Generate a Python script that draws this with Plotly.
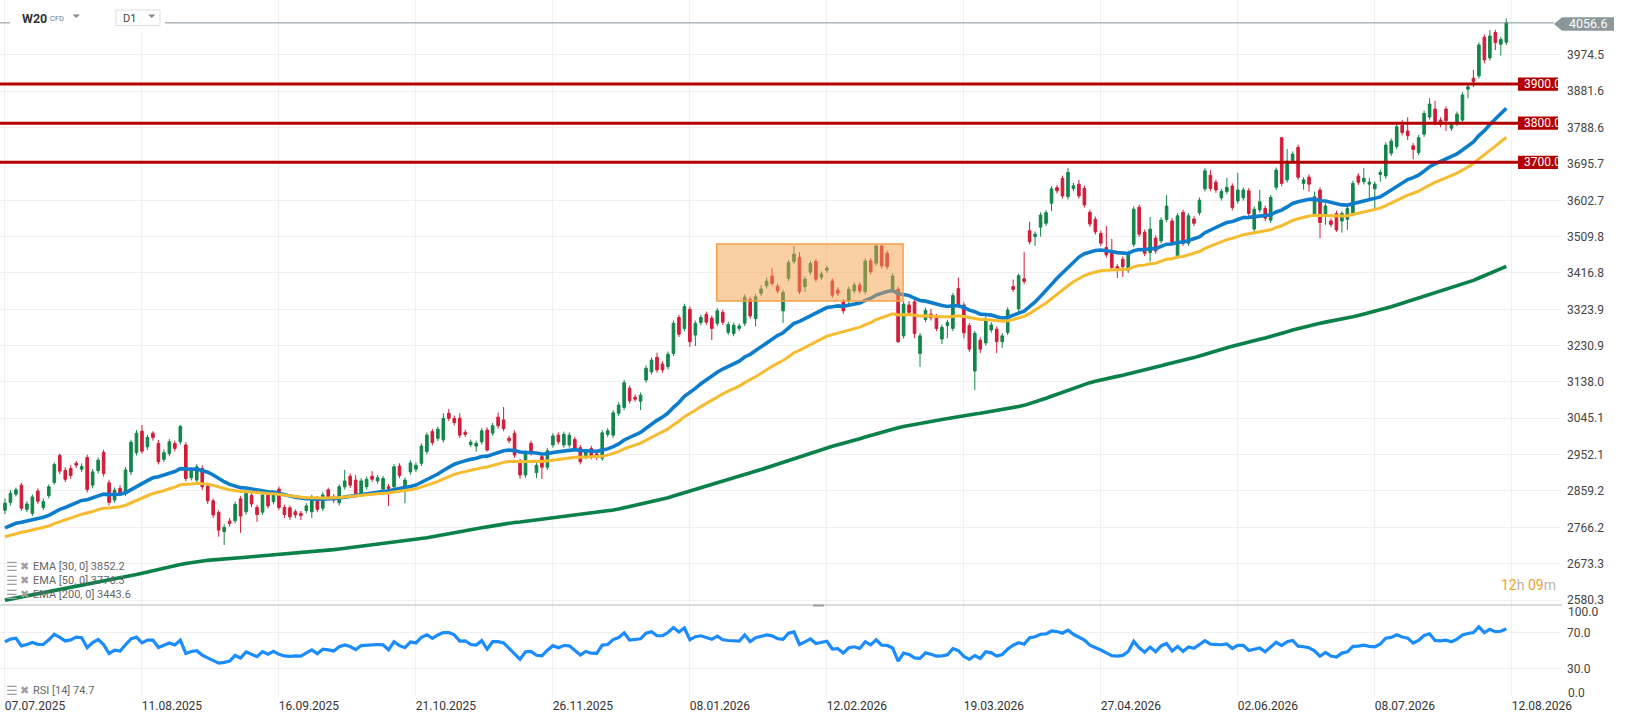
import plotly.graph_objects as go

# W20 CFD, D1 - candles (275 sessions)
date_ticks = ["07.07.2025", "11.08.2025", "16.09.2025", "21.10.2025", "26.11.2025", "08.01.2026",
              "12.02.2026", "19.03.2026", "27.04.2026", "02.06.2026", "08.07.2026", "12.08.2026"]
tick_step = 25

opens = [
    2810, 2830, 2851, 2874, 2812, 2802, 2859, 2817, 2847, 2881,
    2950, 2912, 2917, 2930, 2915, 2945, 2874, 2911, 2958, 2880,
    2836, 2866, 2853, 2908, 2957, 3012, 2972, 3007, 2981, 2940,
    2955, 2981, 2985, 2977, 2893, 2887, 2917, 2872, 2834, 2804,
    2755, 2782, 2783, 2839, 2806, 2848, 2817, 2805, 2849, 2832,
    2864, 2817, 2816, 2806, 2802, 2809, 2806, 2839, 2815, 2862,
    2844, 2829, 2870, 2897, 2887, 2853, 2870, 2897, 2885, 2864,
    2870, 2870, 2923, 2870, 2908, 2915, 2930, 2960, 3011, 2994,
    2990, 3058, 3045, 3045, 3009, 2978, 2974, 2985, 3015, 3007,
    3048, 3041, 2994, 3007, 2934, 2900, 2981, 2906, 2947, 2920,
    2977, 3002, 2977, 2977, 2991, 2970, 2947, 2968, 2954, 2943,
    3004, 3002, 3058, 3073, 3122, 3099, 3089, 3143, 3164, 3201,
    3184, 3177, 3211, 3303, 3275, 3324, 3258, 3290, 3311, 3301,
    3288, 3316, 3265, 3262, 3275, 3288, 3349, 3300, 3365, 3384,
    3409, 3383, 3320, 3403, 3446, 3457, 3382, 3419, 3446, 3406,
    3424, 3396, 3373, 3343, 3345, 3371, 3386, 3369, 3448, 3442,
    3486, 3467, 3373, 3375, 3256, 3335, 3343, 3211, 3298, 3312,
    3305, 3248, 3282, 3275, 3377, 3335, 3282, 3166, 3245, 3238,
    3271, 3273, 3241, 3265, 3382, 3325, 3402, 3525, 3510, 3534,
    3544, 3595, 3635, 3659, 3612, 3633, 3644, 3633, 3572, 3554,
    3518, 3482, 3469, 3433, 3452, 3424, 3490, 3585, 3521, 3469,
    3506, 3499, 3554, 3550, 3461, 3572, 3493, 3555, 3571, 3632,
    3667, 3649, 3609, 3625, 3639, 3601, 3609, 3627, 3529, 3578,
    3582, 3552, 3636, 3763, 3655, 3704, 3738, 3646, 3662, 3567,
    3629, 3567, 3550, 3569, 3550, 3554, 3569, 3665, 3650, 3644,
    3632, 3669, 3665, 3723, 3740, 3795, 3780, 3742, 3725, 3772,
    3816, 3836, 3808, 3836, 3787, 3800, 3808, 3887, 3915, 3921,
    4020, 3967, 4032, 4002, 4007,
]
highs = [
    2840, 2862, 2868, 2880, 2833, 2850, 2866, 2840, 2876, 2932,
    2955, 2920, 2925, 2936, 2930, 2952, 2915, 2945, 2965, 2888,
    2868, 2874, 2920, 2990, 3015, 3028, 3003, 3012, 2990, 2965,
    2992, 2988, 3028, 2984, 2920, 2928, 2925, 2880, 2840, 2810,
    2774, 2790, 2832, 2846, 2862, 2855, 2824, 2856, 2856, 2856,
    2870, 2824, 2822, 2812, 2808, 2828, 2850, 2846, 2856, 2868,
    2851, 2876, 2913, 2904, 2900, 2892, 2896, 2910, 2900, 2898,
    2877, 2928, 2930, 2894, 2938, 2932, 2981, 3009, 3018, 3024,
    3058, 3069, 3052, 3058, 3016, 2991, 2988, 3020, 3022, 3033,
    3060, 3074, 3001, 3014, 2941, 2962, 2988, 2932, 2954, 2969,
    3007, 3009, 3011, 3009, 2998, 2977, 2967, 2975, 2961, 3015,
    3020, 3066, 3086, 3143, 3129, 3106, 3111, 3180, 3201, 3213,
    3191, 3216, 3295, 3310, 3338, 3331, 3295, 3310, 3318, 3308,
    3327, 3323, 3292, 3290, 3288, 3362, 3356, 3363, 3386, 3405,
    3430, 3390, 3374, 3450, 3486, 3470, 3408, 3448, 3453, 3421,
    3436, 3403, 3380, 3350, 3382, 3393, 3393, 3454, 3455, 3489,
    3488, 3474, 3416, 3382, 3344, 3345, 3350, 3263, 3328, 3325,
    3312, 3285, 3297, 3366, 3405, 3342, 3289, 3269, 3252, 3306,
    3291, 3280, 3263, 3329, 3400, 3415, 3471, 3548, 3523, 3572,
    3578, 3639, 3642, 3666, 3685, 3647, 3655, 3640, 3579, 3561,
    3525, 3537, 3504, 3440, 3459, 3474, 3587, 3592, 3528, 3560,
    3513, 3559, 3616, 3557, 3570, 3579, 3570, 3562, 3610, 3685,
    3680, 3656, 3632, 3660, 3646, 3673, 3636, 3634, 3587, 3629,
    3589, 3617, 3687, 3765, 3734, 3728, 3745, 3662, 3669, 3625,
    3636, 3595, 3557, 3576, 3576, 3589, 3653, 3672, 3685, 3660,
    3651, 3681, 3751, 3761, 3798, 3808, 3815, 3749, 3770, 3832,
    3864, 3857, 3815, 3843, 3802, 3830, 3879, 3900, 3936, 4007,
    4027, 4038, 4039, 4021, 4068,
]
lows = [
    2800, 2822, 2845, 2808, 2805, 2795, 2826, 2810, 2840, 2875,
    2902, 2882, 2890, 2918, 2908, 2855, 2866, 2904, 2896, 2822,
    2829, 2846, 2846, 2900, 2950, 2955, 2964, 2988, 2927, 2933,
    2948, 2960, 2978, 2884, 2886, 2880, 2862, 2826, 2790, 2742,
    2721, 2768, 2776, 2752, 2798, 2818, 2780, 2798, 2814, 2825,
    2810, 2790, 2785, 2790, 2785, 2802, 2790, 2805, 2808, 2837,
    2829, 2822, 2863, 2867, 2846, 2846, 2863, 2882, 2878, 2857,
    2821, 2863, 2892, 2828, 2901, 2908, 2923, 2953, 2976, 2987,
    2983, 3038, 3027, 2995, 2997, 2971, 2960, 2978, 2960, 3000,
    3019, 3012, 2981, 2944, 2890, 2893, 2950, 2892, 2890, 2913,
    2970, 2978, 2970, 2970, 2961, 2927, 2940, 2940, 2938, 2936,
    2997, 2995, 3051, 3066, 3083, 3087, 3066, 3136, 3157, 3162,
    3162, 3170, 3204, 3253, 3268, 3228, 3230, 3283, 3284, 3245,
    3281, 3284, 3258, 3255, 3268, 3281, 3300, 3280, 3358, 3377,
    3383, 3364, 3289, 3396, 3439, 3362, 3368, 3412, 3394, 3399,
    3417, 3353, 3358, 3313, 3333, 3364, 3364, 3362, 3413, 3435,
    3428, 3426, 3366, 3238, 3249, 3309, 3250, 3177, 3291, 3295,
    3268, 3235, 3250, 3268, 3328, 3250, 3215, 3117, 3212, 3231,
    3264, 3212, 3225, 3258, 3368, 3318, 3388, 3490, 3486, 3510,
    3537, 3575, 3620, 3607, 3605, 3626, 3607, 3584, 3535, 3515,
    3486, 3456, 3424, 3404, 3407, 3417, 3483, 3509, 3460, 3446,
    3466, 3492, 3547, 3488, 3454, 3486, 3486, 3537, 3564, 3625,
    3626, 3622, 3602, 3618, 3577, 3594, 3602, 3562, 3516, 3571,
    3550, 3545, 3629, 3639, 3648, 3697, 3655, 3630, 3625, 3560,
    3506, 3540, 3534, 3522, 3520, 3527, 3562, 3642, 3643, 3608,
    3582, 3650, 3658, 3716, 3733, 3769, 3757, 3708, 3718, 3765,
    3809, 3794, 3790, 3780, 3780, 3793, 3801, 3864, 3892, 3914,
    3953, 3960, 3987, 3973, 4000,
]
closes = [
    2828, 2853, 2862, 2815, 2826, 2844, 2833, 2832, 2870, 2927,
    2910, 2889, 2899, 2925, 2922, 2863, 2908, 2938, 2904, 2830,
    2861, 2853, 2913, 2984, 3007, 2961, 2996, 2996, 2934, 2957,
    2985, 2968, 3024, 2891, 2913, 2921, 2870, 2834, 2798, 2759,
    2766, 2776, 2825, 2795, 2855, 2826, 2799, 2849, 2821, 2849,
    2817, 2799, 2793, 2798, 2796, 2821, 2844, 2812, 2849, 2844,
    2836, 2870, 2885, 2874, 2853, 2885, 2889, 2889, 2893, 2891,
    2865, 2921, 2899, 2887, 2931, 2925, 2974, 3002, 2983, 3017,
    3045, 3045, 3034, 3002, 3004, 2984, 2981, 3013, 2964, 3026,
    3026, 3019, 2988, 2951, 2900, 2955, 2957, 2925, 2920, 2962,
    3000, 2985, 3004, 3002, 2968, 2934, 2960, 2947, 2945, 3008,
    3013, 3059, 3079, 3136, 3090, 3094, 3104, 3173, 3194, 3169,
    3169, 3209, 3288, 3260, 3331, 3241, 3288, 3303, 3291, 3275,
    3320, 3291, 3285, 3283, 3281, 3355, 3307, 3356, 3376, 3396,
    3390, 3371, 3367, 3443, 3465, 3369, 3401, 3441, 3401, 3414,
    3429, 3360, 3365, 3320, 3375, 3386, 3371, 3447, 3420, 3486,
    3435, 3433, 3409, 3241, 3337, 3316, 3262, 3256, 3321, 3302,
    3275, 3278, 3290, 3359, 3335, 3264, 3222, 3262, 3222, 3299,
    3284, 3241, 3256, 3322, 3375, 3410, 3395, 3497, 3516, 3565,
    3571, 3632, 3627, 3614, 3674, 3640, 3614, 3591, 3542, 3522,
    3493, 3463, 3431, 3427, 3433, 3467, 3580, 3516, 3467, 3529,
    3473, 3552, 3588, 3495, 3563, 3493, 3563, 3544, 3603, 3678,
    3633, 3629, 3625, 3636, 3584, 3629, 3629, 3569, 3580, 3599,
    3557, 3610, 3680, 3646, 3703, 3721, 3662, 3655, 3644, 3612,
    3546, 3588, 3541, 3527, 3569, 3582, 3646, 3649, 3659, 3649,
    3644, 3674, 3744, 3754, 3791, 3776, 3768, 3733, 3763, 3825,
    3849, 3801, 3797, 3806, 3795, 3823, 3872, 3893, 3906, 4000,
    3962, 4023, 4006, 4014, 4057,
]

price_ticks = [2580.3, 2673.3, 2766.2, 2859.2, 2952.1, 3045.1, 3138.0, 3230.9,
               3323.9, 3416.8, 3509.8, 3602.7, 3695.7, 3788.6, 3881.6, 3974.5]
last_price = 4056.6
levels = [3900.0, 3800.0, 3700.0]

# EMA periods, their values carried in from before the visible window, legend texts
ema_periods = [30, 50, 200]
ema_start = [2765, 2742, 2580]
ema_labels = ["EMA [30, 0] 3852.2", "EMA [50, 0] 3776.3", "EMA [200, 0] 3443.6"]
ema_colors = ["#0b7dcc", "#f7bb2f", "#0a8148"]
rsi_period = 14
rsi_seed = (15.0, 10.0)  # avg gain / avg loss before the window
rsi_label = "RSI [14] 74.7"

# consolidation box drawn on the chart (session index / price)
box_x = [129.9, 163.9]
box_y = [3345, 3491]


def ema(values, n, seed):
    k = 2.0 / (n + 1)
    out = [seed]
    for v in values[1:]:
        out.append(out[-1] + k * (v - out[-1]))
    return out


def rsi(values, n, seed):
    g, l = seed
    out = [100 - 100 / (1 + g / l)]
    for prev, cur in zip(values[:-1], values[1:]):
        ch = cur - prev
        g = (g * (n - 1) + max(ch, 0)) / n
        l = (l * (n - 1) + max(-ch, 0)) / n
        out.append(100 - 100 / (1 + g / l))
    return out


idx = list(range(len(closes)))

# page geometry (pixels)
W, H = 1626, 723
PW, PH = 1560, 697
SPLIT = 605
Y_RANGE = [2567.5, 4115.1]
RSI_RANGE = [-0.9, 100.5]
FONT = "Roboto"


def px(x):
    return x / PW


def py(y):
    return (PH - y) / PH


def label(x, y, text, size, color="#666666", anchor="left", family=FONT):
    return dict(xref="paper", yref="paper", x=px(x), y=py(y), xanchor=anchor, yanchor="middle",
                text=text, showarrow=False, font=dict(family=family, size=size, color=color))


split_paper = py(SPLIT)

fig = go.Figure()

fig.add_trace(go.Candlestick(
    x=idx, open=opens, high=highs, low=lows, close=closes,
    increasing=dict(line=dict(color="#12864a", width=1), fillcolor="#12864a"),
    decreasing=dict(line=dict(color="#d21c38", width=1), fillcolor="#d21c38"),
    whiskerwidth=0, showlegend=False, xaxis="x", yaxis="y",
))

for n, s0, col, w in zip(ema_periods, ema_start, ema_colors, [3.6, 3.0, 3.6]):
    fig.add_trace(go.Scatter(
        x=idx, y=ema(closes, n, s0), mode="lines",
        line=dict(color=col, width=w), showlegend=False, hoverinfo="skip",
        xaxis="x", yaxis="y",
    ))

fig.add_trace(go.Scatter(
    x=idx, y=rsi(closes, rsi_period, rsi_seed), mode="lines",
    line=dict(color="#1a8cff", width=3.2), showlegend=False,
    xaxis="x2", yaxis="y2",
))

shapes = []
# last price line
shapes.append(dict(type="line", xref="paper", yref="y", x0=0, x1=px(1554),
                   y0=last_price, y1=last_price, line=dict(color="#86919a", width=1)))
# support / resistance levels with their tags on the price scale
for lv in levels:
    shapes.append(dict(type="line", xref="paper", yref="y", x0=0, x1=px(1518),
                       y0=lv, y1=lv, line=dict(color="#b30000", width=3)))
    shapes.append(dict(type="rect", xref="paper", yref="y", x0=px(1518), x1=px(1558),
                       y0=lv - 17, y1=lv + 17, fillcolor="#b30000", line=dict(width=0)))
# consolidation box
shapes.append(dict(type="rect", xref="x", yref="y", x0=box_x[0], x1=box_x[1],
                   y0=box_y[0], y1=box_y[1], layer="above",
                   fillcolor="rgba(245,160,74,0.5)", line=dict(color="#f5a04a", width=1.5)))
# pane separator and its handle
shapes.append(dict(type="line", xref="paper", yref="paper", x0=0, x1=px(1562),
                   y0=split_paper, y1=split_paper, line=dict(color="#cfcfcf", width=1.5)))
shapes.append(dict(type="rect", xref="paper", yref="paper", x0=px(813), x1=px(824),
                   y0=py(606.5), y1=py(604.5), fillcolor="#9a9a9a", line=dict(width=0)))
# header block over the top of the chart
shapes.append(dict(type="rect", xref="paper", yref="paper", x0=px(10), x1=px(165),
                   y0=py(31), y1=py(0), fillcolor="white", line=dict(width=0)))
shapes.append(dict(type="rect", xref="paper", yref="paper", x0=px(116), x1=px(160),
                   y0=py(25.5), y1=py(10), fillcolor="white",
                   line=dict(color="#dddddd", width=1)))
for tx in (72.5, 148):
    shapes.append(dict(type="path", xref="paper", yref="paper",
                       path=f"M {px(tx)},{py(14.5)} L {px(tx + 7.5)},{py(14.5)} "
                            f"L {px(tx + 3.75)},{py(18)} Z",
                       fillcolor="#8a8a8a", line=dict(width=0)))
# last price tag
shapes.append(dict(type="path", xref="paper", yref="paper",
                   path=f"M {px(1554)},{py(24)} L {px(1562)},{py(17.3)} L {px(1614)},{py(17.3)} "
                        f"L {px(1614)},{py(30.7)} L {px(1562)},{py(30.7)} Z",
                   fillcolor="#8c979c", line=dict(width=0)))

ann = []
ann.append(label(1588, 24, f"{last_price:.1f}", 12.5, "white", "center"))
for lv in levels:
    ann.append(dict(xref="paper", yref="y", x=px(1522), y=lv, xanchor="left", yanchor="middle",
                    text=f"{lv:.1f}", showarrow=False,
                    font=dict(family=FONT, size=12, color="white")))
ann.append(label(20, 18, "<b>W20</b>", 12.5, "#333333"))
ann.append(label(48, 18.5, "CFD", 7.5, "#777777"))
ann.append(label(121, 18, "D1", 11, "#444444"))
legend_rows = ema_labels + [rsi_label]
legend_y = [566, 580.3, 594.3, 690]
for lab, yy in zip(legend_rows, legend_y):
    ann.append(label(4, yy, "☰", 13, "#a0a0a0", family="DejaVu Sans"))
    ann.append(label(18, yy, "✖", 11, "#a0a0a0", family="DejaVu Sans"))
    ann.append(label(31, yy, lab, 11, "#666666"))
ann.append(label(1558, 585,
                 "<span style='color:#f5a01f'>12</span><span style='color:#b5b5b5'>h</span> "
                 "<span style='color:#f5a01f'>09</span><span style='color:#b5b5b5'>m</span>",
                 14, anchor="right"))
for txt, ypx in (("100.0", 612), ("0.0", 693)):
    ann.append(label(1566, ypx, txt, 12, "#444444"))

tick_idx = [i * tick_step for i in range(len(date_ticks))]
grid = "#f0f0f0"

fig.update_layout(
    width=W, height=H,
    margin=dict(l=0, r=W - PW, t=0, b=H - PH),
    paper_bgcolor="white", plot_bgcolor="white",
    font=dict(family=FONT, color="#444444"),
    shapes=shapes, annotations=ann,
    boxgap=0.32,
    xaxis=dict(domain=[0, 1], anchor="y", range=[-0.91, 283.8], tickvals=tick_idx,
               showticklabels=False, showgrid=True, gridcolor=grid, zeroline=False,
               rangeslider=dict(visible=False)),
    xaxis2=dict(domain=[0, 1], anchor="y2", matches="x", range=[-0.91, 283.8],
                tickvals=tick_idx, ticktext=date_ticks, ticklabelshift=30,
                tickfont=dict(family=FONT, size=12, color="#333333"),
                showgrid=True, gridcolor=grid, zeroline=False, ticks=""),
    yaxis=dict(domain=[split_paper, 1], anchor="x", side="right", range=Y_RANGE,
               tickvals=price_ticks, ticktext=[f"{v:.1f}" for v in price_ticks],
               tickfont=dict(family=FONT, size=12, color="#444444"), ticklabelstandoff=6,
               showgrid=True, gridcolor=grid, zeroline=False, ticks=""),
    yaxis2=dict(domain=[0, split_paper], anchor="x2", side="right", range=RSI_RANGE,
                tickvals=[0, 30, 70, 100], ticktext=["", "30.0", "70.0", ""],
                tickfont=dict(family=FONT, size=12, color="#444444"), ticklabelstandoff=6,
                showgrid=True, gridcolor=grid, zeroline=False, ticks=""),
)

# the page body margin would push the chart 8 px off the window
fig.write_html("out.html", config={"displayModeBar": False},
               post_script="document.body.style.margin='0';"
                           "document.body.style.overflow='hidden';")
